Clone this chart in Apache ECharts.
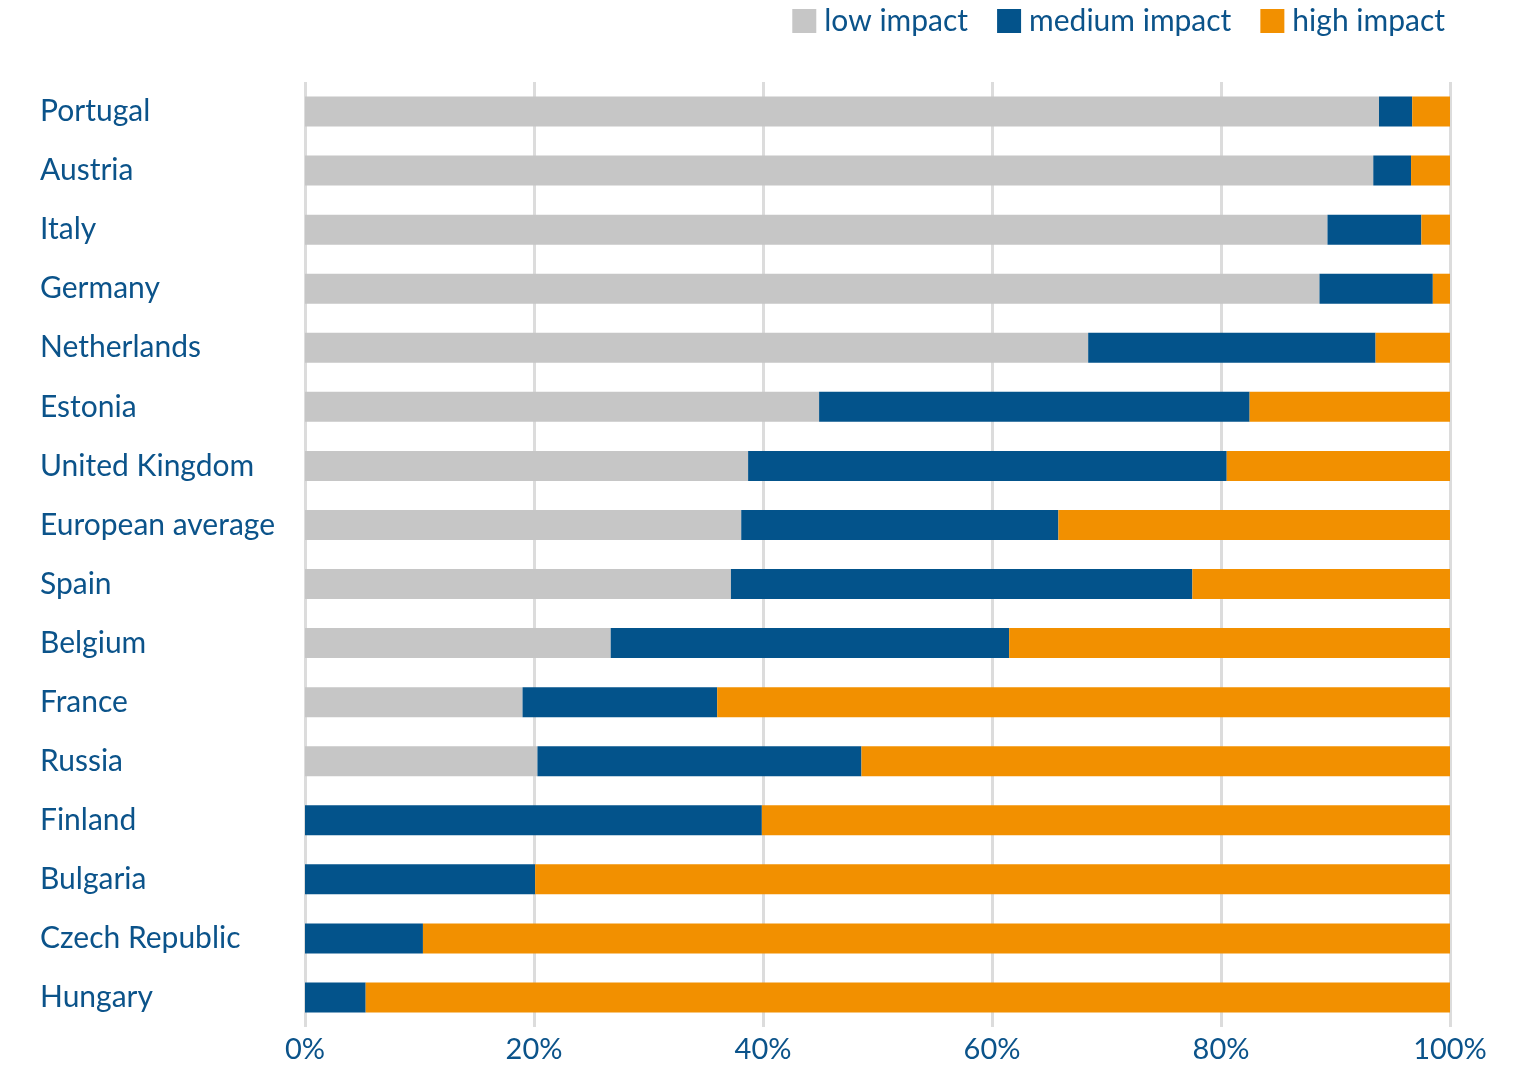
<!DOCTYPE html>
<html>
<head>
<meta charset="utf-8">
<script src="https://cdn.jsdelivr.net/npm/echarts@6/dist/echarts.min.js"></script>
<style>
  html, body { margin: 0; padding: 0; background: #fff; }
  #chart { width: 1518px; height: 1066px; }
</style>
</head>
<body>
<div id="chart"></div>
<script>
// categories, top to bottom
const countries = ['Portugal', 'Austria', 'Italy', 'Germany', 'Netherlands', 'Estonia',
  'United Kingdom', 'European average', 'Spain', 'Belgium', 'France', 'Russia',
  'Finland', 'Bulgaria', 'Czech Republic', 'Hungary']
// shares in %
const lowImpact =    [93.8, 93.3, 89.3, 88.6, 68.4, 44.9, 38.7, 38.1, 37.2, 26.7, 19.0, 20.3, 0, 0, 0, 0]
const mediumImpact = [2.9, 3.3, 8.2, 9.9, 25.1, 37.6, 41.8, 27.7, 40.3, 34.8, 17.0, 28.3, 39.9, 20.1, 10.3, 5.3]
const highImpact =   [3.3, 3.4, 2.5, 1.5, 6.5, 17.5, 19.5, 34.2, 22.5, 38.5, 64.0, 51.4, 60.1, 79.9, 89.7, 94.7]
const xTicks = [0, 20, 40, 60, 80, 100]

const textColor = '#0b538a'
const font = 'Lato'

const chart = echarts.init(document.getElementById('chart'))

const barSeries = (name, data, color) => ({
  name: name,
  type: 'bar',
  stack: 'total',
  barWidth: 30,
  itemStyle: { color: color },
  data: data
})

chart.setOption({
  animation: false,
  textStyle: { fontFamily: font },
  legend: {
    right: 68,
    top: 1,
    itemWidth: 24,
    itemHeight: 24,
    itemGap: 29,
    icon: 'rect',
    textStyle: { fontSize: 30, color: textColor, fontFamily: font, padding: [0, 0, 0, 3] },
    data: ['low impact', 'medium impact', 'high impact']
  },
  grid: { left: 305, right: 68, top: 82, bottom: 39, outerBoundsMode: 'none' },
  xAxis: {
    type: 'value',
    min: xTicks[0],
    max: xTicks[xTicks.length - 1],
    interval: 20,
    axisLine: { show: false },
    axisTick: { show: false },
    splitLine: { show: true, lineStyle: { color: '#dcdcdc', width: 3 } },
    axisLabel: {
      fontSize: 29,
      color: textColor,
      fontFamily: font,
      margin: 8,
      formatter: v => v + '%'
    }
  },
  yAxis: {
    type: 'category',
    inverse: true,
    data: countries,
    axisLine: { show: false },
    axisTick: { show: false },
    axisLabel: {
      fontSize: 30,
      color: textColor,
      fontFamily: font,
      align: 'left',
      margin: 265,
      padding: [0, 0, 4, 0]
    }
  },
  series: [
    barSeries('low impact', lowImpact, '#c6c6c6'),
    barSeries('medium impact', mediumImpact, '#03538b'),
    barSeries('high impact', highImpact, '#f29000')
  ]
})
</script>
</body>
</html>
